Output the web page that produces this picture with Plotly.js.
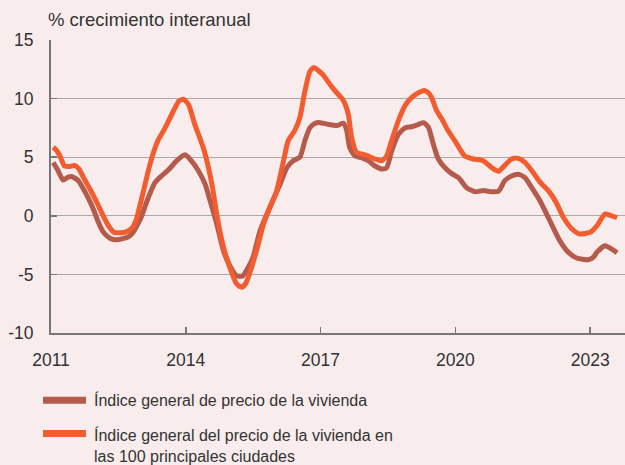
<!DOCTYPE html>
<html>
<head>
<meta charset="utf-8">
<script src="https://cdn.plot.ly/plotly-3.0.1.min.js"></script>
<style>html,body{margin:0;padding:0;background:#f8ecec;}#chart{width:625px;height:465px;}</style>
</head>
<body>
<div id="chart"></div>
<script>
// Series names
const nombreGeneral = "Índice general de precio de la vivienda";
const nombreCiudades = "Índice general del precio de la vivienda en<br>las 100 principales ciudades";

// Tick labels (years)
const tickYears = [2011, 2014, 2017, 2020, 2023];
const tickLabels = ["2011", "2014", "2017", "2020", "2023"];

// Índice general (brown) — decimal year / % yoy
const fechaGeneral = [2011.05,2011.15,2011.27,2011.38,2011.46,2011.61,2011.72,2011.83,2011.95,2012.05,2012.15,2012.24,2012.33,2012.45,2012.6,2012.72,2012.83,2012.92,2013.02,2013.13,2013.31,2013.43,2013.61,2013.8,2013.98,2014.09,2014.28,2014.43,2014.54,2014.69,2014.84,2014.98,2015.13,2015.26,2015.39,2015.5,2015.65,2015.8,2015.95,2016.1,2016.25,2016.39,2016.54,2016.65,2016.76,2016.88,2016.99,2017.17,2017.36,2017.51,2017.58,2017.65,2017.77,2017.92,2018.06,2018.21,2018.36,2018.47,2018.58,2018.73,2018.88,2019.03,2019.18,2019.29,2019.4,2019.51,2019.62,2019.77,2019.92,2020.07,2020.25,2020.44,2020.62,2020.81,2020.96,2021.1,2021.25,2021.4,2021.55,2021.7,2021.88,2022.1,2022.32,2022.51,2022.7,2022.96,2023.08,2023.15,2023.33,2023.48,2023.6];
const valorGeneral = [4.55,3.9,3.05,3.3,3.35,3.0,2.3,1.5,0.5,-0.5,-1.3,-1.7,-1.95,-2.05,-1.95,-1.8,-1.4,-0.8,0.0,1.2,2.8,3.3,3.9,4.7,5.2,4.85,3.85,2.7,1.3,-0.7,-3.0,-4.25,-5.1,-5.15,-4.4,-3.5,-1.3,0.1,1.4,2.7,4.1,4.7,5.0,6.4,7.5,7.9,7.95,7.8,7.7,7.9,7.3,5.8,5.1,4.95,4.7,4.25,4.0,4.1,5.5,6.95,7.5,7.6,7.8,7.95,7.55,6.1,4.85,4.1,3.6,3.25,2.4,2.05,2.15,2.05,2.1,3.0,3.4,3.55,3.25,2.4,1.3,-0.4,-2.1,-3.1,-3.6,-3.75,-3.5,-3.1,-2.55,-2.85,-3.15];

// 100 principales ciudades (orange)
const fechaCiudades = [2011.05,2011.12,2011.2,2011.3,2011.4,2011.53,2011.62,2011.72,2011.82,2011.92,2012.05,2012.15,2012.28,2012.4,2012.55,2012.68,2012.8,2012.9,2012.98,2013.07,2013.15,2013.28,2013.39,2013.54,2013.72,2013.85,2013.95,2014.06,2014.2,2014.39,2014.5,2014.6,2014.69,2014.84,2014.98,2015.13,2015.24,2015.33,2015.43,2015.58,2015.73,2015.87,2016.02,2016.17,2016.28,2016.43,2016.54,2016.65,2016.76,2016.85,2016.95,2017.06,2017.21,2017.36,2017.48,2017.55,2017.62,2017.69,2017.8,2017.95,2018.06,2018.21,2018.36,2018.47,2018.58,2018.73,2018.88,2019.03,2019.18,2019.3,2019.4,2019.47,2019.58,2019.7,2019.84,2019.99,2020.1,2020.21,2020.4,2020.62,2020.81,2020.96,2021.1,2021.25,2021.4,2021.55,2021.73,2021.88,2022.1,2022.25,2022.4,2022.59,2022.77,2023.0,2023.15,2023.33,2023.48,2023.6];
const valorCiudades = [5.85,5.6,5.1,4.25,4.2,4.3,4.0,3.3,2.6,1.9,0.9,0.1,-0.85,-1.4,-1.45,-1.35,-1.05,-0.3,0.9,2.3,3.6,5.4,6.5,7.5,8.9,9.8,9.95,9.5,7.8,5.8,4.2,2.3,0.1,-2.7,-4.4,-5.8,-6.1,-5.8,-4.8,-2.9,-0.7,0.7,2.1,4.6,6.4,7.3,8.4,10.6,12.3,12.65,12.4,12.0,11.2,10.5,10.0,9.5,8.6,6.7,5.4,5.25,5.1,4.85,4.7,5.1,6.4,8.1,9.4,10.1,10.5,10.7,10.5,10.1,9.0,8.25,7.25,6.4,5.7,5.1,4.85,4.7,4.1,3.8,4.3,4.85,4.9,4.55,3.7,2.9,2.0,1.1,-0.1,-1.1,-1.55,-1.4,-0.85,0.15,0.0,-0.15];

const colorGeneral = "#b55b4b";
const colorCiudades = "#f25c2e";
const FONT = "Liberation Sans, Arial, Helvetica, sans-serif";
const TXT = "#333333";

const traces = [
  {x: fechaGeneral, y: valorGeneral, name: nombreGeneral, type: "scatter", mode: "lines",
   line: {color: colorGeneral, width: 5, shape: "spline", smoothing: 0.6}, showlegend: false},
  {x: fechaCiudades, y: valorCiudades, name: nombreCiudades, type: "scatter", mode: "lines",
   line: {color: colorCiudades, width: 5, shape: "spline", smoothing: 0.6}, showlegend: false}
];

// legend geometry (paper coords relative to plot area)
const plotL = 51, plotR = 625, plotT = 40, plotB = 332.7;
const pw = plotR - plotL, ph = plotB - plotT;
const px = v => (v - plotL) / pw;
const py = v => (plotB - v) / ph;

const layout = {
  width: 625, height: 465,
  paper_bgcolor: "#f8ecec", plot_bgcolor: "#f8ecec",
  margin: {l: plotL, r: 625 - plotR, t: plotT, b: 465 - plotB},
  font: {family: FONT, color: TXT, size: 17},
  title: {text: "% crecimiento interanual", x: 48/625, xanchor: "left", xref: "container",
          y: 1 - 20/465, yanchor: "middle", yref: "container",
          font: {family: FONT, size: 18.5, color: TXT}},
  xaxis: {range: [2011, 2011 + pw/44.93], tickvals: tickYears, ticktext: tickLabels,
          showgrid: false, zeroline: false, showline: true, linecolor: "#777777", linewidth: 2,
          ticks: "inside", ticklen: 6, tickcolor: "#777777", tickwidth: 1.5,
          tickfont: {size: 17.5, color: TXT, family: FONT}, ticklabelstandoff: 10, fixedrange: true},
  yaxis: {range: [-10, 15], tickvals: [-10, -5, 0, 5, 10, 15], ticktext: ["-10","-5","0","5","10","15"],
          showgrid: true, gridcolor: "#a9a9a9", gridwidth: 1, zeroline: false,
          showline: true, linecolor: "#777777", linewidth: 2,
          ticks: "inside", ticklen: 6, tickcolor: "#777777", tickwidth: 1.5,
          tickfont: {size: 17.5, color: TXT, family: FONT}, ticklabelstandoff: 12, fixedrange: true},
  shapes: [
    {type: "line", xref: "paper", yref: "paper", x0: px(43), x1: px(86), y0: py(400), y1: py(400),
     line: {color: colorGeneral, width: 7}},
    {type: "line", xref: "paper", yref: "paper", x0: px(43), x1: px(86), y0: py(433), y1: py(433),
     line: {color: colorCiudades, width: 7}}
  ],
  annotations: [
    {xref: "paper", yref: "paper", x: px(92), y: py(400), xanchor: "left", yanchor: "middle",
     text: nombreGeneral, showarrow: false, align: "left", font: {size: 16, color: TXT, family: FONT}},
    {xref: "paper", yref: "paper", x: px(92), y: py(445), xanchor: "left", yanchor: "middle",
     text: nombreCiudades, showarrow: false, align: "left", font: {size: 16, color: TXT, family: FONT}}
  ],
  showlegend: false
};

Plotly.newPlot("chart", traces, layout, {displayModeBar: false, staticPlot: true});
</script>
</body>
</html>
